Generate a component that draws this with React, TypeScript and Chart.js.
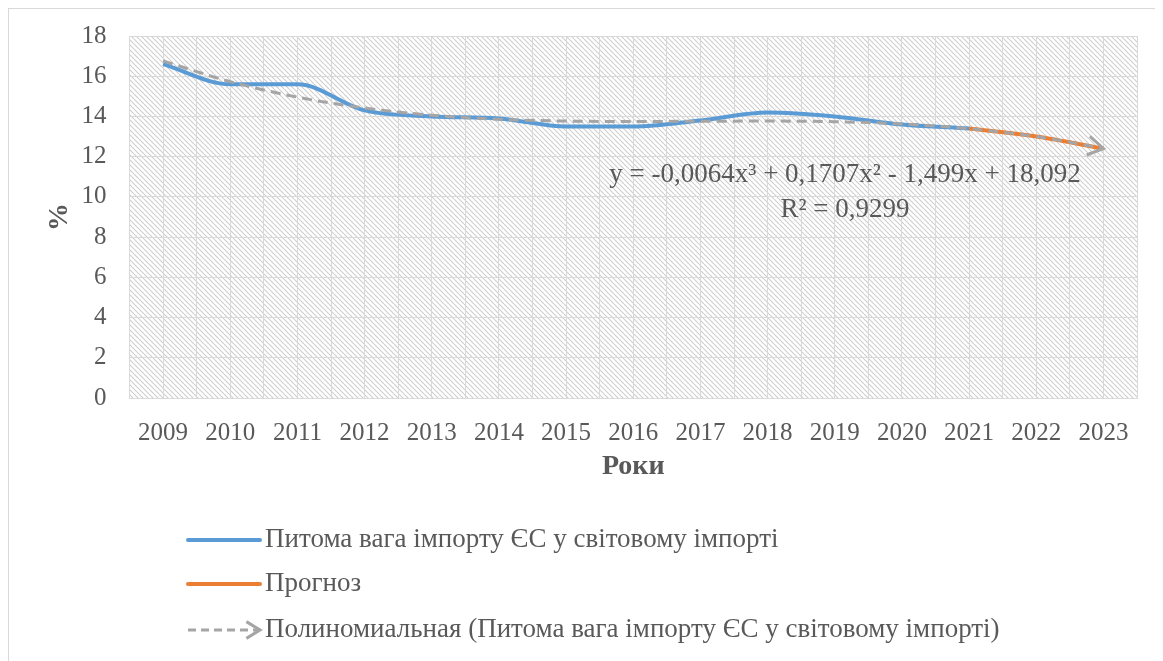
import React, { useEffect, useRef } from "react";
import { Chart, registerables } from "chart.js";

Chart.register(...registerables);

const years = ["2009", "2010", "2011", "2012", "2013", "2014", "2015", "2016", "2017", "2018", "2019", "2020", "2021", "2022", "2023"];
const shareValues = [16.6, 15.6, 15.6, 14.3, 14.0, 13.9, 13.5, 13.5, 13.8, 14.2, 14.0, 13.6, 13.4, null, null];
const forecastValues = [null, null, null, null, null, null, null, null, null, null, null, null, 13.4, 13.0, 12.4];
const trendValues = [16.76, 15.73, 14.96, 14.42, 14.06, 13.86, 13.77, 13.75, 13.76, 13.77, 13.74, 13.63, 13.39, 13.0, 12.41];
const yTicks = [0, 2, 4, 6, 8, 10, 12, 14, 16, 18];

const seriesNames = [
  "Питома вага імпорту ЄС у світовому імпорті",
  "Прогноз",
  "Полиномиальная (Питома вага імпорту ЄС у світовому імпорті)",
];
const equationLines = ["y = -0,0064x³ + 0,1707x² - 1,499x + 18,092", "R² = 0,9299"];

const BLUE = "#5B9BD5";
const ORANGE = "#ED7D31";
const GRAY = "#A5A5A5";
const TEXT = "#595959";
const GRID = "#D9D9D9";
const FONT = "'Liberation Serif', 'Times New Roman', serif";

const toPoints = (vals: (number | null)[]) =>
  vals.map((v, i) => ({ x: i, y: v })).filter((p) => p.y !== null);

function makePattern(ctx: CanvasRenderingContext2D) {
  const p = 5;
  const c = document.createElement("canvas");
  c.width = p;
  c.height = p;
  const g = c.getContext("2d")!;
  g.fillStyle = "#ffffff";
  g.fillRect(0, 0, p, p);
  g.strokeStyle = "#CDCDCD";
  g.lineWidth = 1.1;
  for (let k = -1; k <= 1; k++) {
    g.beginPath();
    g.moveTo(k * p, 0);
    g.lineTo(k * p + p, p);
    g.stroke();
  }
  return ctx.createPattern(c, "repeat");
}

function drawArrow(ctx: CanvasRenderingContext2D, x: number, y: number, angle: number, len: number) {
  ctx.beginPath();
  ctx.moveTo(x - len * Math.cos(angle - 0.55), y - len * Math.sin(angle - 0.55));
  ctx.lineTo(x, y);
  ctx.lineTo(x - len * Math.cos(angle + 0.55), y - len * Math.sin(angle + 0.55));
  ctx.stroke();
}

const decorPlugin = {
  id: "decor",
  beforeDraw(chart: any) {
    const { ctx, chartArea } = chart;
    ctx.save();
    const pat = makePattern(ctx);
    if (pat) ctx.fillStyle = pat;
    ctx.fillRect(chartArea.left, chartArea.top, chartArea.right - chartArea.left, chartArea.bottom - chartArea.top);
    ctx.restore();
  },
  afterDatasetsDraw(chart: any) {
    const { ctx } = chart;
    const meta = chart.getDatasetMeta(2);
    const pts = meta.data;
    if (pts.length >= 2) {
      const a = pts[pts.length - 2];
      const b = pts[pts.length - 1];
      const ang = Math.atan2(b.y - a.y, b.x - a.x);
      ctx.save();
      ctx.strokeStyle = GRAY;
      ctx.lineWidth = 3;
      ctx.setLineDash([]);
      drawArrow(ctx, b.x, b.y, ang, 18);
      ctx.restore();
    }
  },
  afterDraw(chart: any) {
    const { ctx } = chart;
    ctx.save();
    // equation
    ctx.fillStyle = TEXT;
    ctx.font = `27px ${FONT}`;
    ctx.textAlign = "center";
    ctx.textBaseline = "middle";
    ctx.fillText(equationLines[0], 836, 166);
    ctx.fillText(equationLines[1], 836, 201);

    // legend
    const x0 = 179;
    const x1 = 251;
    const rows = [531, 575, 621];
    ctx.lineCap = "round";
    ctx.lineWidth = 4;
    ctx.strokeStyle = BLUE;
    ctx.beginPath();
    ctx.moveTo(x0, rows[0]);
    ctx.lineTo(x1, rows[0]);
    ctx.stroke();
    ctx.strokeStyle = ORANGE;
    ctx.beginPath();
    ctx.moveTo(x0, rows[1]);
    ctx.lineTo(x1, rows[1]);
    ctx.stroke();
    ctx.lineCap = "butt";
    ctx.strokeStyle = GRAY;
    ctx.lineWidth = 3;
    ctx.setLineDash([8, 5]);
    ctx.beginPath();
    ctx.moveTo(x0, rows[2]);
    ctx.lineTo(x1 - 3, rows[2]);
    ctx.stroke();
    ctx.setLineDash([]);
    drawArrow(ctx, x1, rows[2], 0, 16);

    ctx.fillStyle = TEXT;
    ctx.font = `27px ${FONT}`;
    ctx.textAlign = "left";
    ctx.textBaseline = "middle";
    seriesNames.forEach((n, i) => ctx.fillText(n, 256, rows[i]));
    ctx.restore();
  },
};

export default function App() {
  const ref = useRef<HTMLCanvasElement | null>(null);
  useEffect(() => {
    if (!ref.current) return;
    const chart = new Chart(ref.current, {
      type: "line",
      data: {
        datasets: [
          {
            label: seriesNames[0],
            data: toPoints(shareValues),
            borderColor: BLUE,
            backgroundColor: BLUE,
            borderWidth: 4,
            pointRadius: 0,
            cubicInterpolationMode: "monotone",
            order: 1,
          },
          {
            label: seriesNames[1],
            data: toPoints(forecastValues),
            borderColor: ORANGE,
            backgroundColor: ORANGE,
            borderWidth: 4,
            pointRadius: 0,
            cubicInterpolationMode: "monotone",
            order: 2,
          },
          {
            label: seriesNames[2],
            data: toPoints(trendValues),
            borderColor: GRAY,
            backgroundColor: GRAY,
            borderWidth: 3,
            borderDash: [10, 6],
            pointRadius: 0,
            cubicInterpolationMode: "monotone",
            order: 0,
          },
        ] as any,
      },
      options: {
        animation: false,
        responsive: false,
        maintainAspectRatio: false,
        layout: { padding: { left: 0, top: 27, right: 26, bottom: 177 } },
        plugins: { legend: { display: false }, tooltip: { enabled: false } },
        scales: {
          x: {
            type: "linear",
            min: -0.5,
            max: 14.5,
            afterFit: (s: any) => {
              s.height = 86;
            },
            afterBuildTicks: (s: any) => {
              const t = [];
              for (let i = 0; i <= 30; i++) t.push({ value: -0.5 + i * 0.5 });
              s.ticks = t;
            },
            ticks: {
              autoSkip: false,
              maxRotation: 0,
              padding: 20,
              color: TEXT,
              font: { family: FONT, size: 25 },
              callback: (v: any) => (Number.isInteger(v) ? years[v] : ""),
            },
            grid: { color: GRID, lineWidth: 1, drawTicks: false },
            border: { color: GRID },
            title: {
              display: true,
              text: "Роки",
              color: TEXT,
              font: { family: FONT, size: 28, weight: "bold" },
              padding: { top: 0, bottom: 0 },
            },
          },
          y: {
            min: 0,
            max: 18,
            afterFit: (s: any) => {
              s.width = 120.5;
            },
            afterBuildTicks: (s: any) => {
              s.ticks = yTicks.map((v) => ({ value: v }));
            },
            ticks: {
              padding: 0,
              color: TEXT,
              font: { family: FONT, size: 25 },
            },
            grid: { color: GRID, lineWidth: 1, drawTicks: true, tickLength: 23, tickColor: "rgba(0,0,0,0)" },
            border: { color: GRID },
            title: {
              display: true,
              text: "%",
              color: TEXT,
              font: { family: FONT, size: 28, weight: "bold" },
              padding: { top: 34, bottom: 0 },
            },
          },
        },
      } as any,
      plugins: [decorPlugin],
    });
    return () => chart.destroy();
  }, []);

  return (
    <div
      style={{
        width: 1155,
        height: 653,
        borderTop: "1px solid #D9D9D9",
        borderLeft: "1px solid #D9D9D9",
        background: "#fff",
        boxSizing: "border-box",
      }}
    >
      <canvas ref={ref} width={1154} height={652} style={{ display: "block" }} />
    </div>
  );
}
